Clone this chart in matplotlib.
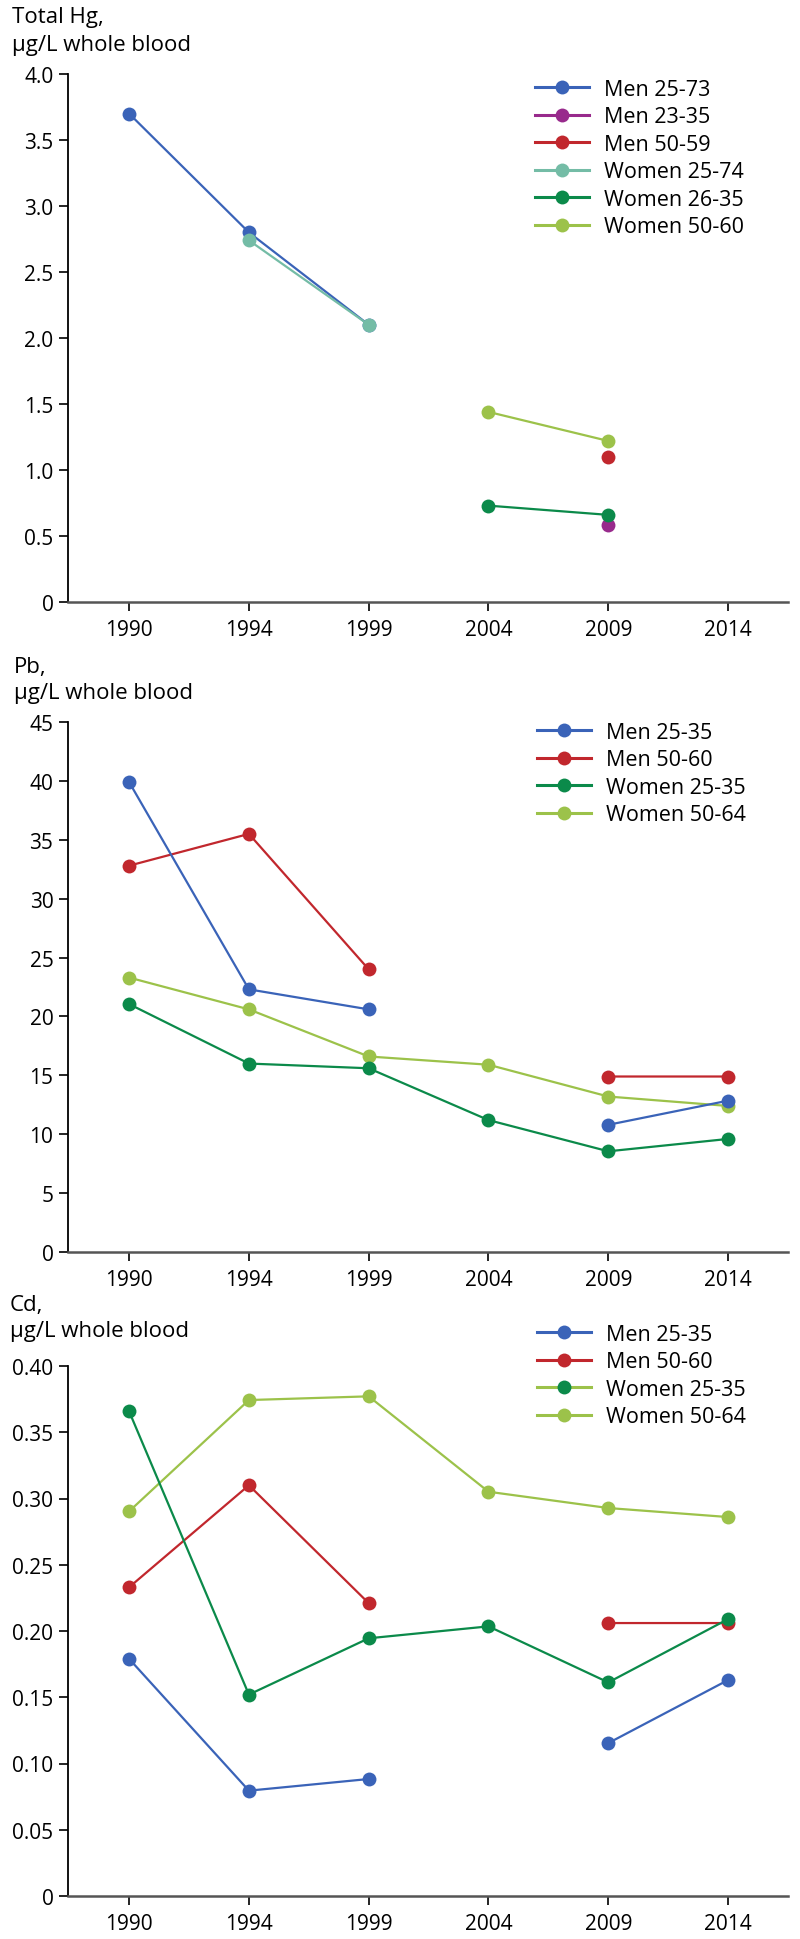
import numpy as np
import matplotlib
matplotlib.use("Agg")
import matplotlib.pyplot as plt
from matplotlib.lines import Line2D

plt.rcParams['font.family'] = ['Open Sans', 'DejaVu Sans']

nan = np.nan
years = ["1990", "1994", "1999", "2004", "2009", "2014"]

# Panel 1: Total Hg
hg_labels = ["Men 25-73", "Men 23-35", "Men 50-59", "Women 25-74", "Women 26-35", "Women 50-60"]
hg_men_25_73 = [3.70, 2.80, 2.10, nan, nan, nan]
hg_men_23_35 = [nan, nan, nan, nan, 0.58, nan]
hg_men_50_59 = [nan, nan, nan, nan, 1.10, nan]
hg_women_25_74 = [nan, 2.74, 2.10, nan, nan, nan]
hg_women_26_35 = [nan, nan, nan, 0.73, 0.66, nan]
hg_women_50_60 = [nan, nan, nan, 1.44, 1.22, nan]
hg_ticks = [0, 0.5, 1.0, 1.5, 2.0, 2.5, 3.0, 3.5, 4.0]
hg_ticklabels = ["0", "0.5", "1.0", "1.5", "2.0", "2.5", "3.0", "3.5", "4.0"]

# Panel 2: Pb
pb_labels = ["Men 25-35", "Men 50-60", "Women 25-35", "Women 50-64"]
pb_men_25_35 = [39.9, 22.3, 20.6, nan, 10.8, 12.85]
pb_men_50_60 = [32.8, 35.5, 24.0, nan, 14.9, 14.9]
pb_women_25_35 = [21.05, 16.0, 15.6, 11.2, 8.55, 9.6]
pb_women_50_64 = [23.3, 20.6, 16.6, 15.9, 13.2, 12.4]
pb_ticks = [0, 5, 10, 15, 20, 25, 30, 35, 40, 45]
pb_ticklabels = ["0", "5", "10", "15", "20", "25", "30", "35", "40", "45"]

# Panel 3: Cd
cd_labels = ["Men 25-35", "Men 50-60", "Women 25-35", "Women 50-64"]
cd_men_25_35 = [0.179, 0.0795, 0.0883, nan, 0.1154, 0.163]
cd_men_50_60 = [0.233, 0.310, 0.221, nan, 0.206, 0.206]
cd_women_25_35 = [0.3658, 0.152, 0.1945, 0.2035, 0.1612, 0.209]
cd_women_50_64 = [0.2903, 0.3743, 0.3771, 0.3051, 0.2928, 0.286]
cd_ticks = [0, 0.05, 0.10, 0.15, 0.20, 0.25, 0.30, 0.35, 0.40]
cd_ticklabels = ["0", "0.05", "0.10", "0.15", "0.20", "0.25", "0.30", "0.35", "0.40"]

BLUE = "#3a63b8"
PURPLE = "#982a8c"
RED = "#c1272d"
TEAL = "#74bca6"
DGREEN = "#0b8a4a"
LGREEN = "#9cc24a"

W, H = 800, 1940
fig = plt.figure(figsize=(W / 100, H / 100), dpi=100)

TICK_FS = 15
LEG_FS = 15.5
TITLE_FS = 16
MS = 10


def fx(px):
    return px / W


def fy(py):
    return 1 - py / H


def make_axes(top_px, bot_px):
    left, right = 68, 788
    ax = fig.add_axes([fx(left), fy(bot_px), (right - left) / W, (bot_px - top_px) / H])
    for s in ("top", "right"):
        ax.spines[s].set_visible(False)
    ax.spines["left"].set_color("black")
    ax.spines["left"].set_linewidth(1.3)
    ax.spines["bottom"].set_color("#555555")
    ax.spines["bottom"].set_linewidth(1.8)
    ax.tick_params(axis="y", length=6.5, width=1.2, pad=4, labelsize=TICK_FS, colors="black")
    ax.tick_params(axis="x", length=6.5, width=1.2, pad=6, labelsize=TICK_FS, colors="black")
    ax.set_xlim(-0.51, 5.5)
    ax.set_xticks(range(len(years)))
    ax.set_xticklabels(years)
    ax.set_facecolor("none")
    return ax


def plot_series(ax, values, color, z):
    ax.plot(range(len(years)), values, color=color, lw=1.6, marker="o", ms=MS,
            markeredgewidth=0, zorder=z, clip_on=False)


def add_legend(ax, labels, line_colors, marker_colors, x_px, y_px):
    handles = [Line2D([0], [0], color=lc, lw=2.2, marker="o", ms=MS, markerfacecolor=mc,
                      markeredgewidth=0)
               for lc, mc in zip(line_colors, marker_colors)]
    leg = ax.legend(handles, labels, loc="upper left", bbox_to_anchor=(fx(x_px), fy(y_px)),
                    bbox_transform=fig.transFigure, frameon=False, fontsize=LEG_FS,
                    handlelength=2.5, handletextpad=0.7, labelspacing=0.3,
                    borderpad=0, borderaxespad=0)
    return leg


def titles(line1, y1, x1=12):
    fig.text(fx(x1), fy(y1), line1, fontsize=TITLE_FS, va="center", ha="left")


# ---------- Panel 1 ----------
ax1 = make_axes(75, 603)
ax1.set_ylim(0, 4.0)
ax1.set_yticks(hg_ticks)
ax1.set_yticklabels(hg_ticklabels)
plot_series(ax1, hg_men_25_73, BLUE, 3)
plot_series(ax1, hg_men_23_35, PURPLE, 3)
plot_series(ax1, hg_men_50_59, RED, 3)
plot_series(ax1, hg_women_25_74, TEAL, 4)
plot_series(ax1, hg_women_26_35, DGREEN, 4)
plot_series(ax1, hg_women_50_60, LGREEN, 4)
hg_colors = [BLUE, PURPLE, RED, TEAL, DGREEN, LGREEN]
add_legend(ax1, hg_labels, hg_colors, hg_colors, 535, 80)
titles("Total Hg,", 18)
titles("µg/L whole blood", 45)

# ---------- Panel 2 ----------
ax2 = make_axes(723, 1253)
ax2.set_ylim(0, 45)
ax2.set_yticks(pb_ticks)
ax2.set_yticklabels(pb_ticklabels)
plot_series(ax2, pb_women_50_64, LGREEN, 3)
plot_series(ax2, pb_women_25_35, DGREEN, 3)
plot_series(ax2, pb_men_50_60, RED, 4)
plot_series(ax2, pb_men_25_35, BLUE, 5)
pb_colors = [BLUE, RED, DGREEN, LGREEN]
add_legend(ax2, pb_labels, pb_colors, pb_colors, 537, 723)
titles("Pb,", 667, 14)
titles("µg/L whole blood", 693, 14)

# ---------- Panel 3 ----------
ax3 = make_axes(1367, 1897)
ax3.set_ylim(0, 0.40)
ax3.set_yticks(cd_ticks)
ax3.set_yticklabels(cd_ticklabels)
plot_series(ax3, cd_women_50_64, LGREEN, 3)
plot_series(ax3, cd_men_25_35, BLUE, 3)
plot_series(ax3, cd_men_50_60, RED, 4)
plot_series(ax3, cd_women_25_35, DGREEN, 5)
cd_line_colors = [BLUE, RED, LGREEN, LGREEN]
cd_marker_colors = [BLUE, RED, DGREEN, LGREEN]
add_legend(ax3, cd_labels, cd_line_colors, cd_marker_colors, 537, 1325)
titles("Cd,", 1305, 10)
titles("µg/L whole blood", 1332, 10)

fig.savefig("out.png", dpi=100)
